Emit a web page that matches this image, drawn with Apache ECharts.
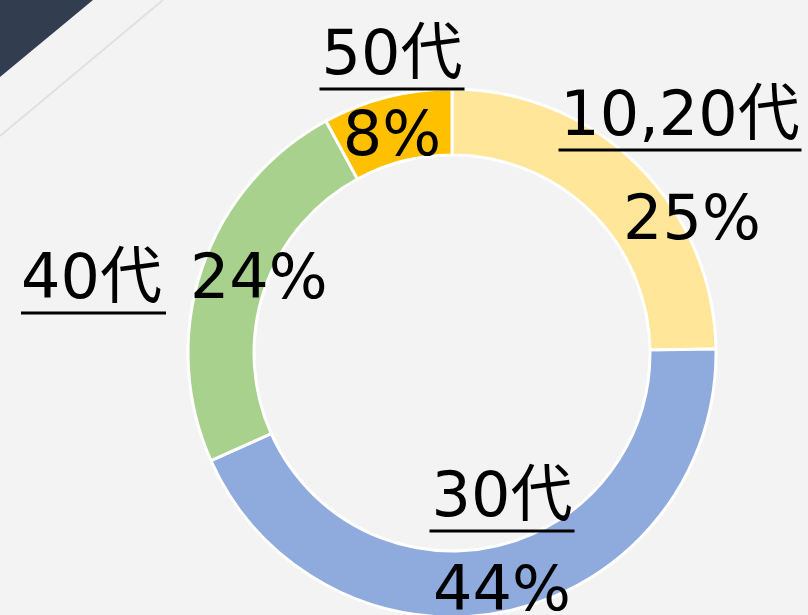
<!DOCTYPE html>
<html>
<head>
<meta charset="utf-8">
<script src="https://cdn.jsdelivr.net/npm/echarts@6/dist/echarts.min.js"></script>
<style>
  html, body { margin: 0; padding: 0; background: #f3f3f3; }
  #chart { width: 808px; height: 615px; }
</style>
</head>
<body>
<div id="chart"></div>
<script>
// 年代別の割合
var ages = ['10,20代', '30代', '40代', '50代']
var shares = [25, 44, 24, 8]
var colors = ['#ffe699', '#8faadc', '#a9d18e', '#ffc000']

var FONT = '"DejaVu Sans", "Noto Sans CJK JP", sans-serif'
var SIZE = 62

// label placement (name center x / top y)
var labelPos = [
  { x: 680, y: 91, align: 'center' },
  { x: 502, y: 472, align: 'center' },
  { x: 21, y: 254, align: 'left' },
  { x: 392, y: 30, align: 'center' }
]
var pctGap = [140, 120, 0, 94]

var ctx = document.createElement('canvas').getContext('2d')
ctx.font = SIZE + 'px ' + FONT
function textW (s) {
  return Math.round(ctx.measureText(s).width) + 4
}

var pieData = ages.map(function (name, i) {
  var pct = shares[i] + '%'
  var fmt = i === 2
    ? '{n|' + name + '}{s|}{p|' + pct + '}\n{u|}'
    : '{n|' + name + '}\n{u|}\n{p|' + pct + '}'
  return {
    name: name,
    value: shares[i],
    itemStyle: { color: colors[i] },
    label: {
      formatter: fmt,
      overflow: 'none',
      rich: {
        n: { fontSize: SIZE, fontFamily: FONT, color: '#000', lineHeight: 56 },
        s: { width: 28, lineHeight: 56 },
        u: { width: textW(name), height: 3, backgroundColor: '#000', lineHeight: 6 },
        p: {
          fontSize: SIZE, fontFamily: FONT, color: '#000',
          lineHeight: i === 2 ? 56 : pctGap[i],
          padding: i === 0 ? [0, 0, 0, 24] : 0
        }
      }
    }
  }
})

var myChart = echarts.init(document.getElementById('chart'))
myChart.setOption({
  backgroundColor: '#f3f3f3',
  animation: false,
  graphic: [
    {
      type: 'polygon',
      shape: { points: [[0, 0], [93, 0], [0, 77]] },
      style: { fill: '#323e50' },
      silent: true
    },
    {
      type: 'line',
      shape: { x1: 163, y1: 0, x2: 0, y2: 136 },
      style: { stroke: '#e0e0e0', lineWidth: 2 },
      silent: true
    }
  ],
  series: [
    {
      type: 'pie',
      center: [452, 353],
      radius: [198, 264],
      startAngle: 90,
      clockwise: true,
      silent: true,
      itemStyle: { borderColor: '#ffffff', borderWidth: 3 },
      label: { show: true, overflow: 'none' },
      labelLine: { show: false },
      labelLayout: function (params) {
        var p = labelPos[params.dataIndex]
        return { x: p.x, y: p.y, align: p.align, verticalAlign: 'top', hideOverlap: false }
      },
      data: pieData
    }
  ]
})
</script>
</body>
</html>
